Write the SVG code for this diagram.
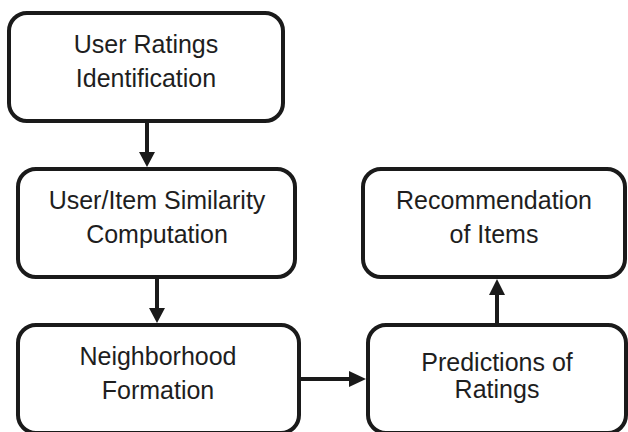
<svg xmlns="http://www.w3.org/2000/svg" width="628" height="432" viewBox="0 0 628 432">
  <style>
    .box { fill: #ffffff; stroke: #1a1a1a; stroke-width: 4; }
    .lbl { font-family: "Liberation Sans", Arial, sans-serif; font-size: 25px; fill: #1e1e1e; text-anchor: middle; }
    .conn { stroke: #1a1a1a; stroke-width: 4; fill: none; }
    .head { fill: #1a1a1a; }
  </style>
  <rect width="628" height="432" fill="#ffffff"/>
  <g id="connectors">
    <line class="conn" x1="147" y1="121" x2="147" y2="154"/>
    <polygon class="head" points="139,152 155,152 147,167"/>
    <line class="conn" x1="157" y1="277" x2="157" y2="310"/>
    <polygon class="head" points="149,308 165,308 157,323"/>
    <line class="conn" x1="299" y1="379" x2="351" y2="379"/>
    <polygon class="head" points="349,371 349,387 366,379"/>
    <line class="conn" x1="497" y1="325" x2="497" y2="292"/>
    <polygon class="head" points="489,295 505,295 497,279"/>
  </g>
  <g id="node-user-ratings">
    <rect class="box" x="9" y="13" width="274" height="108" rx="18" ry="18"/>
    <text class="lbl" x="146" y="53">User Ratings</text>
    <text class="lbl" x="146" y="87">Identification</text>
  </g>
  <g id="node-similarity">
    <rect class="box" x="18" y="169" width="277" height="108" rx="18" ry="18"/>
    <text class="lbl" x="157" y="209">User/Item Similarity</text>
    <text class="lbl" x="157" y="243">Computation</text>
  </g>
  <g id="node-neighborhood">
    <rect class="box" x="18" y="325" width="281" height="108" rx="18" ry="18"/>
    <text class="lbl" x="158" y="365">Neighborhood</text>
    <text class="lbl" x="158" y="399">Formation</text>
  </g>
  <g id="node-recommendation">
    <rect class="box" x="363" y="169" width="262" height="108" rx="18" ry="18"/>
    <text class="lbl" x="494" y="209">Recommendation</text>
    <text class="lbl" x="494" y="243">of Items</text>
  </g>
  <g id="node-predictions">
    <rect class="box" x="368" y="325" width="258" height="108" rx="18" ry="18"/>
    <text class="lbl" x="497" y="371">Predictions of</text>
    <text class="lbl" x="497" y="398">Ratings</text>
  </g>
</svg>
